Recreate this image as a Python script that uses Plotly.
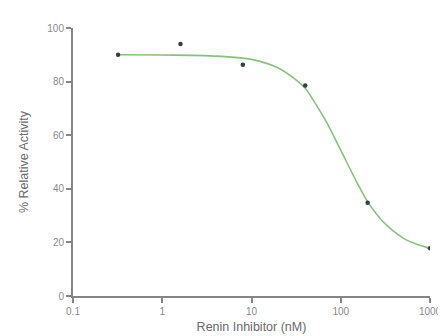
import plotly.graph_objects as go

# Measured points
conc_nM = [0.32, 1.6, 8, 40, 200, 1000]
activity = [90, 94, 86.3, 78.5, 34.8, 17.8]

# Fitted curve
curve_x = [0.32, 1, 3, 10, 20, 30, 40, 50, 70, 100, 150, 200, 300, 500, 700, 1000]
curve_y = [90, 89.9, 89.7, 88.3, 85.1, 81.2, 77.5, 72.7, 64.6, 54.4, 42.7, 35.2, 27.6, 21.6, 19.4, 17.8]

x_tickvals = [0.1, 1, 10, 100, 1000]
x_ticktext = ["0.1", "1", "10", "100", "1000"]
y_tickvals = [0, 20, 40, 60, 80, 100]

fig = go.Figure()
fig.add_trace(go.Scatter(x=curve_x, y=curve_y, mode="lines",
                         line=dict(color="#86c27a", width=1.6, shape="spline", smoothing=0.8),
                         hoverinfo="skip", showlegend=False))
fig.add_trace(go.Scatter(x=conc_nM, y=activity, mode="markers",
                         marker=dict(color="#34403a", size=4.5),
                         showlegend=False))

axis_font = dict(family="Liberation Sans, Arial, sans-serif", size=10, color="#8a8a8a")
title_font = dict(family="Liberation Sans, Arial, sans-serif", size=12.5, color="#6a6a6a")

fig.update_xaxes(type="log", range=[-1, 3], tickvals=x_tickvals, ticktext=x_ticktext,
                 showgrid=False, zeroline=False, showline=True, linecolor="#858585", linewidth=2,
                 ticks="outside", ticklen=5, tickcolor="#858585", tickwidth=1.5,
                 tickfont=axis_font,
                 title=dict(text="Renin Inhibitor (nM)", font=title_font, standoff=6))
fig.update_yaxes(range=[0, 100], tickvals=y_tickvals,
                 showgrid=False, zeroline=False, showline=True, linecolor="#858585", linewidth=2,
                 ticks="outside", ticklen=5, tickcolor="#858585", tickwidth=1.5,
                 tickfont=axis_font,
                 title=dict(text="% Relative Activity", font=title_font, standoff=16))

fig.update_layout(width=446, height=336, margin=dict(l=65, r=13, t=20, b=46),
                  paper_bgcolor="white", plot_bgcolor="white")

fig.write_html("out.html")
